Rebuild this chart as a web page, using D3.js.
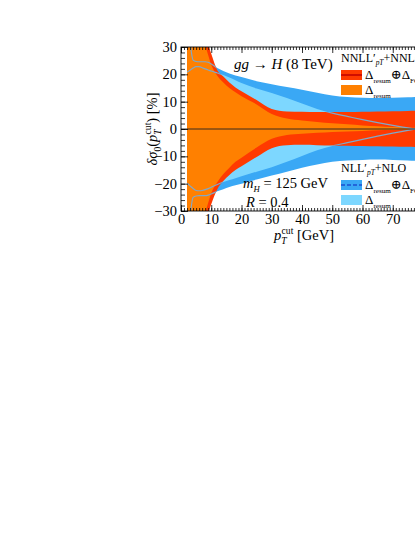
<!DOCTYPE html>
<html>
<head>
<meta charset="utf-8">
<script src="https://cdn.jsdelivr.net/npm/d3@7"></script>
<style>
  body { margin: 0; background: #fff; }
  svg text { font-family: "Liberation Serif", "DejaVu Serif", serif; fill: #000; }
</style>
</head>
<body>
<script>
'use strict';

const ptCut = [2, 3, 4, 5, 6, 7, 8, 9, 10, 12, 14, 16, 18, 20, 25, 30, 35, 40, 45, 50, 55, 60, 65, 70, 75, 80];

// NNLL'+NNLO, Delta_resum (orange), in %
const nnllResumHi = [60, 60, 60, 55, 45, 37, 31, 27, 23.5, 19.5, 17, 15, 13.4, 12, 9, 5.5, 3.8, 3.1, 2.6, 2.1, 1.7, 1.3, 1.0, 0.7, 0.5, 0.4];
const nnllResumLo = [-60, -60, -60, -55, -45, -37, -31, -27, -23.5, -19.5, -16.5, -14.2, -12, -10.5, -6.8, -3.6, -2.2, -1.7, -1.4, -1.1, -0.9, -0.7, -0.5, -0.4, -0.3, -0.3];

// NNLL'+NNLO, Delta_resum (+) Delta_FO (red)
const nnllTotalHi = [60, 60, 60, 60, 52, 42, 35, 31, 27.5, 21.5, 19.2, 17, 15.2, 13.8, 10.6, 7.3, 6.4, 6.3, 6.2, 6.2, 6.2, 6.3, 6.4, 6.5, 6.6, 6.7];
const nnllTotalLo = [-60, -60, -60, -60, -52, -42, -36, -31, -27.5, -22, -19, -16.8, -15, -13.6, -10.2, -7, -5.9, -5.8, -5.9, -6, -6.1, -6.2, -6.3, -6.4, -6.5, -6.6];

// NLL'+NLO, Delta_resum (light blue)
const nllResumHi = [20.8, 21.5, 22.3, 22.8, 22.8, 22.4, 22, 21.6, 21.2, 20.5, 19.8, 18.8, 17.8, 16.8, 14.8, 13.2, 11.3, 9.3, 7.3, 5.8, 4.6, 3.4, 2.3, 1.3, 0.4, -0.5];
const nllResumLo = [-19.8, -20.8, -21.8, -22.5, -22.6, -22.5, -22.2, -21.8, -21.3, -20.3, -19.4, -18.7, -18, -17.3, -15.6, -14, -12, -9.9, -7.8, -6.2, -5, -3.8, -2.6, -1.5, -0.5, 0.5];

// NLL'+NLO, Delta_resum (+) Delta_FO (blue)
const nllTotalHi = [45, 32, 25.2, 24.7, 24.6, 24.6, 24.6, 24.4, 23.8, 22.3, 21.2, 20.3, 19.6, 19, 17.5, 16.4, 15.4, 14.4, 13.3, 12.3, 11.7, 11.4, 11.3, 11.4, 11.6, 11.8];
const nllTotalLo = [-45, -32, -25, -24.5, -24.4, -24.4, -24.4, -24.2, -23.8, -22.8, -22, -21.2, -20.6, -20, -18.5, -17, -15.6, -14.2, -13, -12, -11.5, -11.3, -11.2, -11.3, -11.5, -11.7];

const xTicks = [0, 10, 20, 30, 40, 50, 60, 70, 80];
const yTicks = [-30, -20, -10, 0, 10, 20, 30];

const colors = {
  nnllResum: "#ff8000",
  nnllTotal: "#ff3a00",
  nllResum: "#7dd7ff",
  nllTotal: "#3aa8f5",
  edge: "#80a8c8"
};

const rows = ptCut.map((p, i) => ({
  pt: p,
  oHi: nnllResumHi[i], oLo: nnllResumLo[i],
  rHi: nnllTotalHi[i], rLo: nnllTotalLo[i],
  lHi: nllResumHi[i], lLo: nllResumLo[i],
  bHi: nllTotalHi[i], bLo: nllTotalLo[i]
}));

const W = 415, H = 537;
const svg = d3.select("body").append("svg")
  .attr("width", W)
  .attr("height", H);

svg.append("rect").attr("width", W).attr("height", H).attr("fill", "#fff");

const x = d3.scaleLinear().domain([0, 80]).range([181, 423]);
const y = d3.scaleLinear().domain([-30, 30]).range([211, 47]);

const defs = svg.append("defs");
defs.append("clipPath").attr("id", "plotClip")
  .append("rect")
  .attr("x", x(0)).attr("y", y(30))
  .attr("width", x(80) - x(0)).attr("height", y(-30) - y(30));

function band(hi, lo) {
  return d3.area()
    .curve(d3.curveMonotoneX)
    .x(d => x(d.pt))
    .y0(d => y(d[lo]))
    .y1(d => y(d[hi]));
}
function edge(key) {
  return d3.line()
    .curve(d3.curveMonotoneX)
    .x(d => x(d.pt))
    .y(d => y(d[key]));
}

// NLL' band edges only show where they run inside the NNLL' bands
defs.append("clipPath").attr("id", "redClip")
  .append("path")
  .attr("d", band("rHi", "rLo")(rows));

const plot = svg.append("g").attr("clip-path", "url(#plotClip)");

plot.append("path").attr("d", band("bHi", "bLo")(rows)).attr("fill", colors.nllTotal);
plot.append("path").attr("d", band("lHi", "lLo")(rows)).attr("fill", colors.nllResum);
plot.append("path").attr("d", band("rHi", "rLo")(rows)).attr("fill", colors.nnllTotal);
plot.append("path").attr("d", band("oHi", "oLo")(rows)).attr("fill", colors.nnllResum);

const edges = plot.append("g").attr("clip-path", "url(#redClip)");
["lHi", "lLo", "bHi", "bLo"].forEach(k => {
  edges.append("path")
    .attr("d", edge(k)(rows))
    .attr("fill", "none")
    .attr("stroke", colors.edge)
    .attr("stroke-width", 1.2);
});

// zero line
plot.append("line")
  .attr("x1", x(0)).attr("x2", x(80))
  .attr("y1", y(0)).attr("y2", y(0))
  .attr("stroke", "#222")
  .attr("stroke-width", 0.9);

/**** axes ****/
function styleAxis(g) {
  g.select(".domain").remove();
  g.attr("font-family", null).attr("font-size", 14.5);
  g.selectAll("line").attr("stroke", "#000").attr("stroke-width", 0.8);
}
const xMinor = d3.range(0, 81, 1);
const yMinor = d3.range(-30, 31, 2);

svg.append("g").attr("transform", `translate(0,${y(-30)})`)
  .call(d3.axisBottom(x).tickValues(xMinor).tickSizeInner(-3).tickSizeOuter(0).tickFormat(""))
  .call(styleAxis);
svg.append("g").attr("transform", `translate(0,${y(-30)})`)
  .call(d3.axisBottom(x).tickValues(xTicks).tickSizeInner(-6).tickSizeOuter(0).tickPadding(3).tickFormat(d3.format("d")))
  .call(styleAxis);
svg.append("g").attr("transform", `translate(0,${y(30)})`)
  .call(d3.axisTop(x).tickValues(xMinor).tickSizeInner(-3).tickSizeOuter(0).tickFormat(""))
  .call(styleAxis);
svg.append("g").attr("transform", `translate(0,${y(30)})`)
  .call(d3.axisTop(x).tickValues(xTicks).tickSizeInner(-6).tickSizeOuter(0).tickFormat(""))
  .call(styleAxis);
svg.append("g").attr("transform", `translate(${x(0)},0)`)
  .call(d3.axisLeft(y).tickValues(yMinor).tickSizeInner(-4).tickSizeOuter(0).tickFormat(""))
  .call(styleAxis);
svg.append("g").attr("transform", `translate(${x(0)},0)`)
  .call(d3.axisLeft(y).tickValues(yTicks).tickSizeInner(-7).tickSizeOuter(0).tickPadding(4))
  .call(styleAxis);

// frame
svg.append("rect")
  .attr("x", x(0)).attr("y", y(30))
  .attr("width", x(80) - x(0)).attr("height", y(-30) - y(30))
  .attr("fill", "none")
  .attr("stroke", "#000")
  .attr("stroke-width", 0.9);

/**** texts ****/
// parts: [text, italic?, "sub" | "sup" | null, dx, size factor]
function rich(parent, px, py, size, parts, anchor) {
  const t = parent.append("text")
    .attr("x", px).attr("y", py)
    .attr("font-size", size)
    .attr("text-anchor", anchor || "start");
  let shift = 0;
  parts.forEach(p => {
    const s = p[2] === "sub" ? 0.28 : p[2] === "sup" ? -0.42 : 0;
    const ts = t.append("tspan").text(p[0]);
    if (p[1]) ts.attr("font-style", "italic");
    ts.attr("font-size", s === 0 ? size : size * (p[4] || 0.66));
    const dy = (s - shift) * size;
    if (dy) ts.attr("dy", dy.toFixed(2));
    if (p[3]) ts.attr("dx", p[3]);
    shift = s;
  });
  return t;
}

rich(svg, 234, 69, 15, [["gg", true], [" → ", false], ["H", true], ["  (8 TeV)", false]]);

rich(svg, 243, 188, 14.5, [["m", true], ["H", true, "sub", null, 0.6], [" = 125 GeV", false]]);
rich(svg, 246, 207, 14.5, [["R", true], [" = 0.4", false]]);

// y label
rich(svg.append("g").attr("transform", "translate(157,129) rotate(-90)"), 0, 0, 14.5,
  [["δσ", true], ["0", false, "sub"], ["(", false], ["p", true], ["T", true, "sub"], ["cut", false, "sup", -5], [")", false], [" [%]", false]],
  "middle");

// x label
rich(svg, 304, 240, 14.5,
  [["p", true], ["T", true, "sub"], ["cut", false, "sup", -5], [" [GeV]", false]],
  "middle");

/**** legends ****/
function legend(top, title, order, fillA, lineA, dashA, fillB) {
  const g = svg.append("g");
  rich(g, 341, top, 12, [[title, false], ["′", false], ["pT", true, "sub", null, 0.62], ["+" + order, false]]);
  g.append("rect").attr("x", 341).attr("y", top + 8).attr("width", 21).attr("height", 10).attr("fill", fillA);
  g.append("line")
    .attr("x1", 341).attr("x2", 362)
    .attr("y1", top + 13).attr("y2", top + 13)
    .attr("stroke", lineA).attr("stroke-width", 1.5)
    .attr("stroke-dasharray", dashA);
  rich(g, 365, top + 17, 13, [["Δ", false], ["resum", false, "sub", null, 0.55], ["⊕", false], ["Δ", false], ["FO", false, "sub", null, 0.55]]);
  g.append("rect").attr("x", 341).attr("y", top + 23).attr("width", 21).attr("height", 10).attr("fill", fillB);
  rich(g, 365, top + 32, 13, [["Δ", false], ["resum", false, "sub", null, 0.55]]);
}
legend(62, "NNLL", "NNLO", colors.nnllTotal, "#c00000", null, colors.nnllResum);
legend(172, "NLL", "NLO", colors.nllTotal, "#1d4fd0", "4,2", colors.nllResum);
</script>
</body>
</html>
